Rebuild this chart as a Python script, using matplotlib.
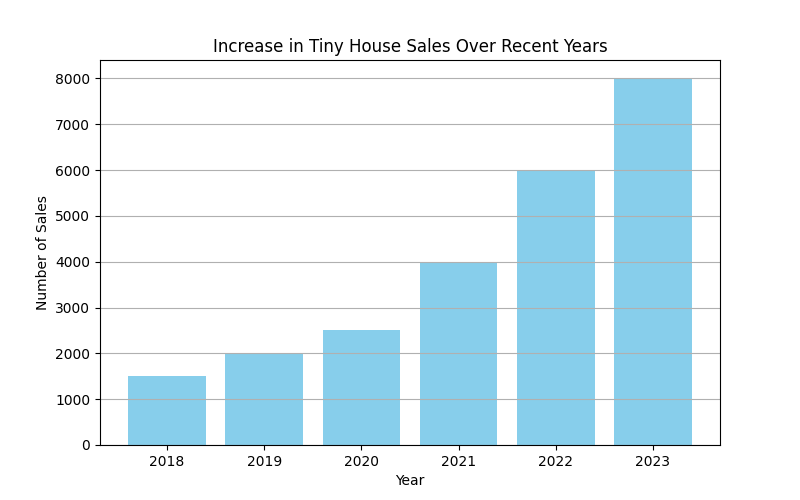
import matplotlib
matplotlib.use("Agg")
import matplotlib.pyplot as plt

years = ["2018", "2019", "2020", "2021", "2022", "2023"]
sales = [1500, 2000, 2500, 4000, 6000, 8000]

fig, ax = plt.subplots(figsize=(8, 5), dpi=100)
ax.bar(years, sales, color="skyblue")
ax.set_title("Increase in Tiny House Sales Over Recent Years")
ax.set_xlabel("Year")
ax.set_ylabel("Number of Sales")
ax.yaxis.grid(True)
fig.savefig("out.png")
